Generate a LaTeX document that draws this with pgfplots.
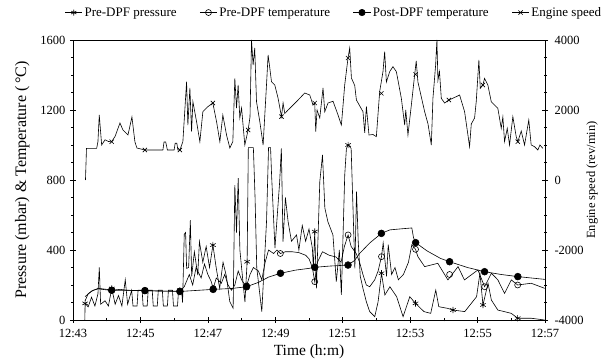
\documentclass[border=0pt]{standalone}
\usepackage{fontspec}
\setmainfont{Liberation Serif}
\usepackage{pgfplots}
\pgfplotsset{compat=1.18}
\begin{document}
\begin{tikzpicture}
\begin{axis}[
  width=472pt, height=280pt, scale only axis,
  xmin=43, xmax=57, ymin=0, ymax=1600,
  xtick={43,45,...,57},
  xticklabels={12:43,12:45,12:47,12:49,12:51,12:53,12:55,12:57},
  minor xtick={44,46,...,56},
  ytick={0,400,...,1600},
  minor ytick={100,200,300,500,600,700,900,1000,1100,1300,1400,1500},
  xtick pos=bottom, ytick pos=left,
  tick align=center,
  major tick length=6pt, minor tick length=3pt,
  tick style={black, line width=0.5pt},
  axis line style={line width=0.7pt},
  ticklabel style={font=\fontsize{12.5}{14}\selectfont},
  xticklabel style={yshift=-3pt},
  yticklabel style={xshift=-1pt},
  /pgf/number format/assume math mode=true,
  /pgf/number format/1000 sep={},
  xlabel={Time (h:m)},
  ylabel={Pressure (mbar) \& Temperature (\,°C)},
  label style={font=\fontsize{16}{18}\selectfont},
  xlabel style={font=\fontsize{15.5}{17}\selectfont, yshift=0pt},
  ylabel style={yshift=4pt},
  legend columns=4,
  legend style={at={(0.5,1)}, anchor=south, yshift=18pt, xshift=25pt, draw=none, fill=none,
    font=\fontsize{13}{15}\selectfont,
    /tikz/every even column/.append style={column sep=21pt}},
  legend cell align=left,
  every axis plot/.append style={line width=0.6pt, black},
]
\coordinate (bl) at (rel axis cs:0,0);
\coordinate (tr) at (rel axis cs:1,1);
% Pre-DPF pressure
\addplot[no marks, forget plot] coordinates {
(43.35,0)(43.36,95)(43.45,75)(43.55,130)(43.65,80)(43.74,150)(43.78,300)(43.82,90)(43.95,110)
(44.05,80)(44.15,180)(44.25,90)(44.35,140)(44.45,80)(44.55,230)(44.62,90)(44.74,170)(44.78,80)
(44.90,80)(44.93,170)(45.05,170)(45.08,80)(45.20,80)(45.23,170)(45.35,170)(45.38,80)(45.50,80)
(45.53,170)(45.65,170)(45.68,80)(45.80,80)(45.83,170)(45.95,170)(45.98,80)(46.10,80)(46.13,170)
(46.22,170)(46.25,100)(46.30,490)(46.34,500)(46.37,295)(46.43,300)(46.48,570)(46.52,250)(46.60,390)
(46.70,257)(46.75,448)(46.85,330)(46.95,420)(47.05,300)(47.15,428)(47.25,295)(47.35,181)(47.45,330)
(47.55,250)(47.65,105)(47.75,67)(47.80,771)(47.85,500)(47.90,810)(47.95,400)(48.05,200)(48.10,103)
(48.165,333)(48.20,985)(48.35,985)(48.40,700)(48.45,300)(48.60,48)(48.74,562)(48.80,985)(48.86,985)
(48.89,829)(48.99,411)(49.13,790)(49.18,981)(49.23,448)(49.30,700)(49.38,562)(49.48,450)(49.63,486)
(49.70,400)(49.80,540)(49.90,450)(50.00,520)(50.10,410)(50.13,295)(50.17,505)(50.22,181)(50.32,790)
(50.40,943)(50.47,640)(50.56,562)(50.71,486)(50.81,219)(50.90,400)(50.96,143)(51.06,829)(51.11,981)
(51.16,1000)(51.25,980)(51.29,733)(51.36,295)(51.41,733)(51.46,448)(51.52,250)(51.60,181)(51.70,105)
(51.80,48)(51.95,19)(52.05,105)(52.15,267)(52.25,143)(52.40,190)(52.60,133)(52.79,19)(52.99,133)
(53.16,95)(53.41,48)(53.61,38)(53.76,171)(53.85,76)(54.10,67)(54.27,57)(54.62,48)(54.97,133)
(55.07,267)(55.16,86)(55.31,210)(55.41,114)(55.60,57)(56.00,38)(56.19,10)(56.59,10)(56.99,0)
};
% Pre-DPF temperature
\addplot[no marks, forget plot] coordinates {
(43.36,110)(43.45,150)(43.60,170)(43.75,178)(44.00,172)(44.15,170)(44.40,175)(44.60,170)(45.13,168)
(45.60,165)(46.17,165)(46.30,190)(46.45,260)(46.55,200)(46.65,300)(46.80,240)(46.90,320)(47.00,260)
(47.10,220)(47.157,180)(47.25,240)(47.40,210)(47.50,260)(47.60,200)(47.70,170)(47.80,200)(47.90,280)
(48.00,230)(48.10,200)(48.15,195)(48.25,260)(48.35,300)(48.50,280)(48.60,230)(48.70,330)(48.80,400)
(48.95,380)(49.05,400)(49.15,380)(49.30,390)(49.50,390)(49.70,385)(49.90,370)(50.00,350)(50.10,300)
(50.17,219)(50.25,330)(50.40,390)(50.60,370)(50.80,360)(50.95,330)(51.05,420)(51.16,486)(51.25,420)
(51.40,380)(51.50,330)(51.60,260)(51.70,200)(51.80,190)(51.95,230)(52.05,280)(52.15,362)(52.20,440)
(52.30,250)(52.35,430)(52.45,260)(52.55,300)(52.65,230)(52.80,260)(52.95,330)(53.05,430)(53.16,404)
(53.23,362)(53.43,305)(53.82,324)(54.12,229)(54.42,305)(54.61,229)(55.01,286)(55.21,190)(55.41,267)
(55.60,230)(55.80,152)(56.00,229)(56.19,200)(56.59,210)(56.99,181)
};
% Post-DPF temperature
\addplot[no marks, forget plot] coordinates {
(43.356,133)(43.55,165)(43.75,181)(44.00,175)(44.147,170)(45.133,168)(46.17,163)(47.157,175)
(47.70,180)(48.147,190)(48.50,215)(48.80,245)(49.154,267)(49.60,285)(50.00,295)(50.17,301)
(50.60,308)(51.157,314)(51.35,340)(51.50,380)(51.80,440)(52.147,495)(52.40,515)(52.80,522)
(53.05,526)(53.10,470)(53.163,442)(53.50,395)(53.90,352)(54.17,333)(54.70,300)(55.207,276)
(55.70,260)(56.193,248)(57.00,232)
};
% markers
\addplot[only marks, mark=asterisk, mark size=3.2pt, forget plot] coordinates {
(43.36,95)(44.15,180)(45.133,170)(46.17,170)(47.15,428)(48.165,333)(50.17,505)(51.16,1000)
(52.15,267)(53.16,95)(54.27,57)(55.16,86)(56.19,10)
};
\addplot[only marks, mark=o, mark size=3pt, forget plot] coordinates {
(44.147,170)(45.133,168)(46.17,165)(47.157,180)(48.15,195)(49.15,380)(50.17,219)(51.16,486)
(52.15,362)(53.16,404)(54.17,260)(55.21,190)(56.19,200)
};
\addplot[only marks, mark=*, mark size=3.4pt, forget plot] coordinates {
(44.147,170)(45.133,168)(46.17,163)(47.157,175)(48.147,190)(49.154,267)(50.17,301)(51.157,314)
(52.147,495)(53.163,442)(54.17,333)(55.207,276)(56.193,248)
};
\addlegendimage{black, line width=0.6pt, mark=asterisk, mark size=3pt}
\addlegendentry{Pre-DPF pressure}
\addlegendimage{black, line width=0.6pt, mark=o, mark size=3pt}
\addlegendentry{Pre-DPF temperature}
\addlegendimage{black, line width=0.6pt, mark=*, mark size=3.2pt}
\addlegendentry{Post-DPF temperature}
\addlegendimage{black, line width=0.6pt, mark=x, mark size=3pt}
\addlegendentry{Engine speed}
\end{axis}
\begin{axis}[
  width=472pt, height=280pt, scale only axis,
  xmin=43, xmax=57, ymin=-4000, ymax=4000,
  axis y line*=right, axis x line=none,
  ytick={-4000,-2000,...,4000},
  minor ytick={-3500,-3000,-2500,-1500,-1000,-500,500,1000,1500,2500,3000,3500},
  tick align=center,
  major tick length=6pt, minor tick length=3pt,
  tick style={black, line width=0.5pt},
  axis line style={line width=0.7pt},
  ticklabel style={font=\fontsize{12.5}{14}\selectfont},
  yticklabel style={xshift=3pt},
  /pgf/number format/assume math mode=true,
  /pgf/number format/1000 sep={},
  ylabel={Engine speed (rev/min)},
  label style={font=\fontsize{12.5}{14}\selectfont},
  ylabel style={yshift=4pt},
  every axis plot/.append style={line width=0.6pt, black},
]
\addplot[no marks] coordinates {
(43.37,0)(43.40,905)(43.702,905)(43.74,1100)(43.779,1857)(43.85,1000)(43.95,1150)(44.05,1100)
(44.147,1095)(44.25,1250)(44.393,1629)(44.481,1430)(44.63,1286)(44.748,1800)(44.837,1086)(44.896,914)
(45.133,857)(45.667,857)(45.70,1086)(45.75,1086)(45.80,857)(46.00,857)(46.03,1050)(46.08,1050)
(46.111,857)(46.17,857)(46.259,1095)(46.369,2809)(46.407,1571)(46.467,2629)(46.517,1381)(46.556,2237)
(46.665,1667)(46.763,1095)(46.852,1952)(47.00,2095)(47.148,2200)(47.258,1667)(47.356,1095)(47.444,1857)
(47.554,1286)(47.652,914)(47.741,1100)(47.80,2905)(47.85,2057)(47.898,2714)(47.948,1771)(48.00,2057)
(48.096,1000)(48.194,1429)(48.25,1800)(48.295,4000)(48.342,3286)(48.39,3771)(48.443,2237)(48.541,1667)
(48.639,1000)(48.739,2714)(48.787,3571)(48.837,3200)(48.887,2809)(48.985,2714)(49.083,2333)(49.184,1810)
(49.231,2200)(49.281,1900)(49.379,2000)(49.628,2237)(49.874,2486)(50.022,2429)(50.12,2143)(50.17,2200)
(50.20,1381)(50.239,2000)(50.319,1771)(50.416,2629)(50.467,1950)(50.564,2200)(50.713,2250)(50.861,1857)
(50.961,1571)(51.059,2714)(51.157,3486)(51.207,3771)(51.258,2914)(51.356,2700)(51.406,2286)(51.601,1952)
(51.652,1350)(51.702,2100)(51.779,1286)(51.898,1300)(51.998,1238)(52.096,2524)(52.194,3095)(52.244,3667)
(52.295,2800)(52.393,3095)(52.49,3238)(52.591,3095)(52.739,2333)(52.837,1571)(52.87,2000)(52.935,1286)
(53.036,2143)(53.133,3000)(53.18,3400)(53.231,2800)(53.43,1952)(53.53,1600)(53.628,1000)(53.676,2333)
(53.756,3286)(53.794,4000)(53.824,2850)(53.87,3100)(53.924,2333)(54.022,2200)(54.149,2286)(54.369,2381)
(54.467,2429)(54.615,1952)(54.763,952)(54.813,1600)(54.911,1771)(54.96,2237)(55.039,3429)(55.08,2620)
(55.157,2714)(55.207,2905)(55.305,2714)(55.406,2237)(55.504,2140)(55.601,2050)(55.702,1476)(55.75,1800)
(55.80,1095)(55.88,1476)(55.948,1000)(56.046,1810)(56.146,1238)(56.193,1095)(56.295,1400)(56.393,1000)
(56.519,1714)(56.59,1000)(56.689,952)(56.787,857)(56.85,1000)(56.935,905)
};
\addplot[only marks, mark=x, mark size=3pt] coordinates {
(44.147,1095)(45.133,857)(46.17,857)(47.148,2200)(48.194,1429)(49.184,1810)(50.17,2200)(51.157,3486)
(52.147,2476)(53.163,3019)(54.149,2286)(55.157,2714)(56.193,1095)
};
\end{axis}
\pgfresetboundingbox
\path ([xshift=-73pt,yshift=-43pt]bl) rectangle ([xshift=56pt,yshift=40pt]tr);
\end{tikzpicture}
\end{document}
